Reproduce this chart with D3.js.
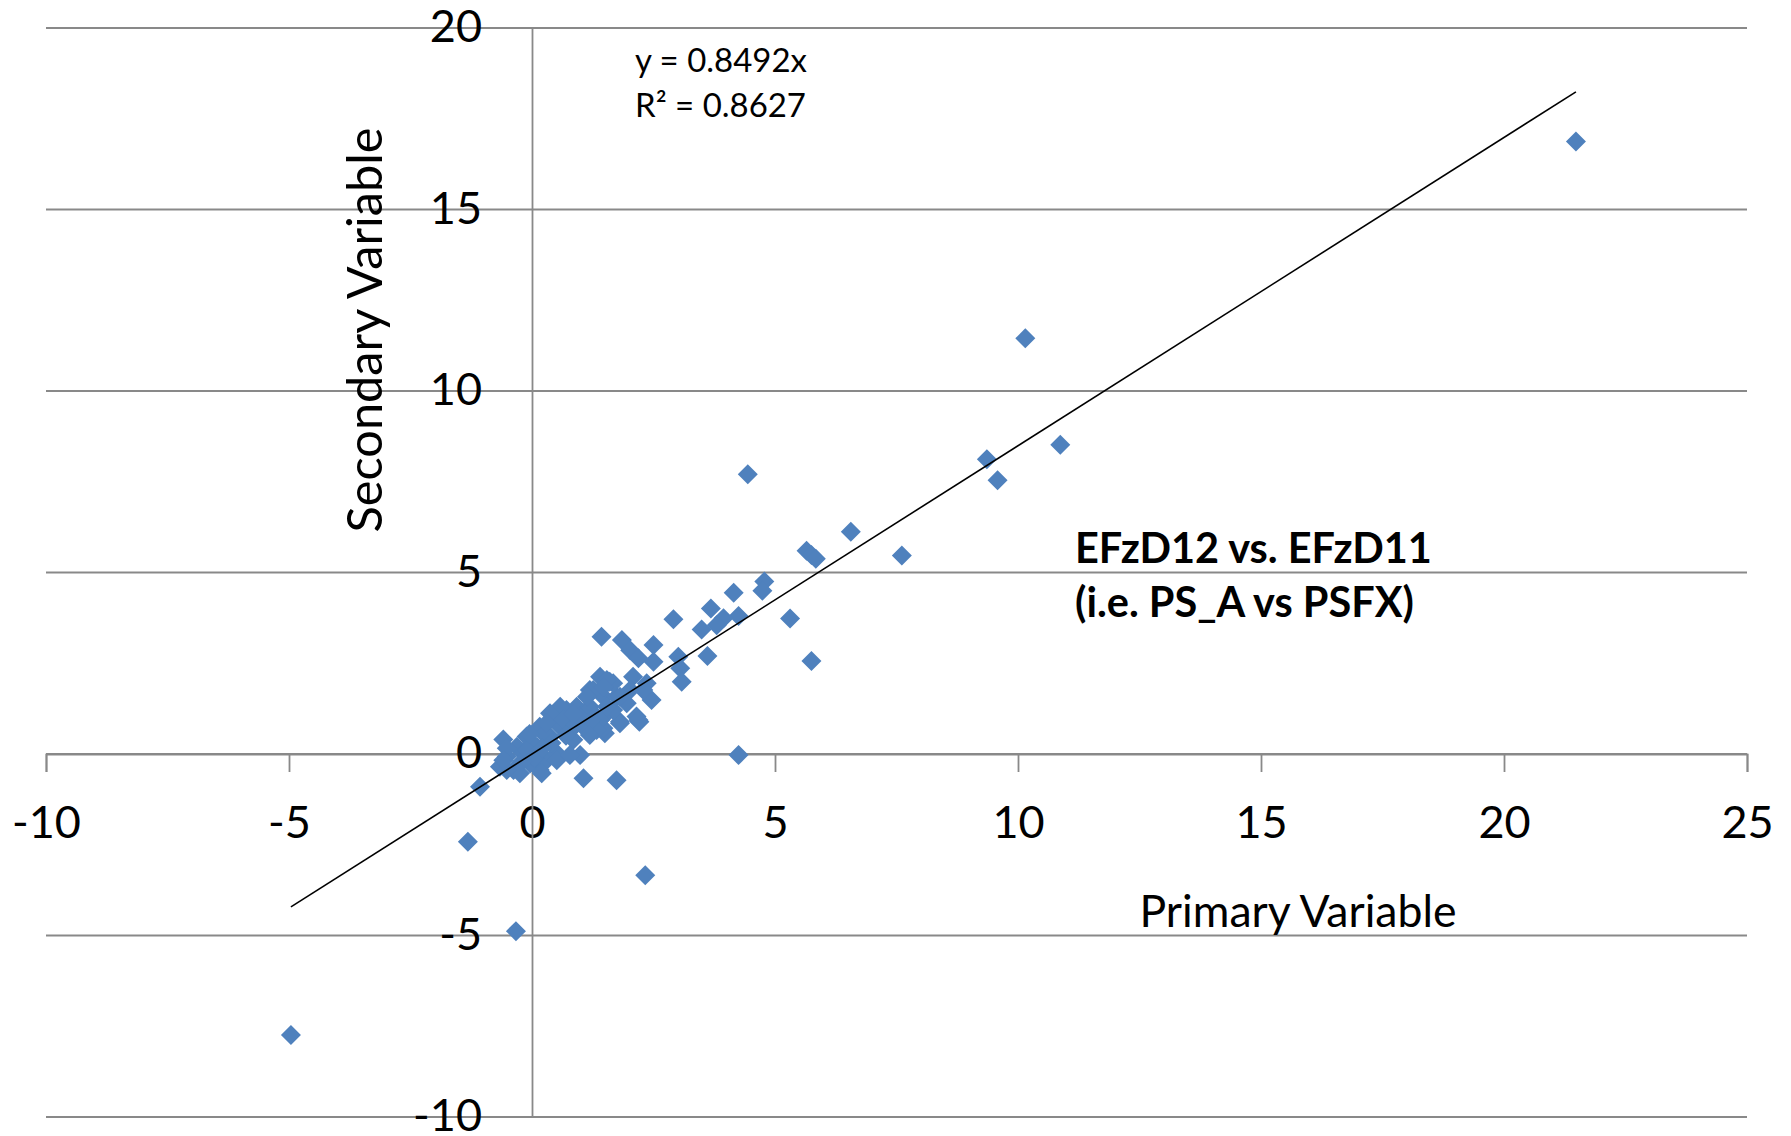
<!DOCTYPE html>
<html><head><meta charset="utf-8">
<script src="https://cdn.jsdelivr.net/npm/d3@7"></script>
<style>
body{margin:0;background:#fff}
svg{display:block}
text{font-family:Lato,"Open Sans",sans-serif;fill:#000}
</style>
</head><body>
<svg id="chart" width="1791" height="1136"></svg>
<script>
// ---- data ----
const primaryValues = [
 21.48,10.15,10.87,9.36,9.58,4.44,6.56,7.61,5.65,5.75,5.84,4.78,4.74,4.15,5.31,5.75,4.25,3.94,3.68,3.80,
 3.49,2.91,3.61,4.25,2.33,-4.96,-0.33,-1.32,-1.07,-0.59,0.99,1.06,1.74,1.43,1.85,2.02,2.19,2.50,2.50,3.01,
 3.05,3.08,2.08,2.36,2.46,2.15,2.21,1.81,1.50,1.60,1.40,1.19,1.47,1.74,2.02,0.92,1.19,1.54,1.81,2.19,
 1.47,1.06,0.99,2.29,1.67,1.54,1.26,0.71,0.44,0.16,-0.11,-0.31,-0.52,-0.66,-0.38,0.16,0.30,0.51,0.85,1.13,
 1.40,1.67,1.95,1.81,1.54,1.19,0.58,0.37,0.10,-0.18,-0.04,0.58,0.37,1.13,1.47,1.33,1.23,0.78,-0.52,-0.25,
 0.20,-0.52,-0.59,0.51,0.78,1.19,0.00,0.25,0.05,0.65,0.90,-0.20,0.40,0.70,1.00,-0.10,0.30,0.85,-0.05,0.20
];
const secondaryValues = [
 16.87,11.45,8.52,8.12,7.54,7.71,6.12,5.47,5.60,5.48,5.38,4.75,4.50,4.44,3.73,2.56,3.80,3.74,4.01,3.55,
 3.43,3.71,2.70,-0.03,-3.34,-7.74,-4.88,-2.42,-0.90,0.40,-0.03,-0.67,-0.72,3.23,3.14,2.86,2.64,3.00,2.54,2.68,
 2.36,1.99,2.13,1.95,1.49,1.03,0.89,0.89,0.57,1.99,2.13,1.76,1.58,1.58,1.76,1.30,1.30,1.12,0.85,0.94,
 0.71,0.75,1.03,1.76,1.95,2.04,1.76,1.21,1.03,0.75,0.48,0.20,-0.07,-0.35,-0.44,-0.44,-0.17,0.02,0.39,0.66,
 0.94,1.21,1.40,1.58,1.30,1.21,0.75,0.48,0.20,0.02,-0.26,1.30,1.12,1.58,1.85,0.66,0.94,0.66,0.16,-0.53,
 -0.53,-0.44,-0.17,-0.17,-0.03,0.52,0.30,0.55,-0.10,0.95,0.80,-0.20,0.30,0.50,1.00,0.10,0.85,1.10,0.55,0.15
];
const xTickValues = [-10,-5,0,5,10,15,20,25];
const yTickValues = [-10,-5,0,5,10,15,20];
const trendSlope = 0.8492;
const rSquared = 0.8627;
const xTitle = "Primary Variable";
const yTitle = "Secondary Variable";
const noteLines = ["EFzD12 vs. EFzD11", "(i.e. PS_A vs PSFX)"];

// ---- layout ----
const svg = d3.select("#chart");
const x = d3.scaleLinear().domain([-10,25]).range([46,1747]);
const y = d3.scaleLinear().domain([-10,20]).range([1117,28]);
const gridColor = "#898989";
const markColor = "#4F81BD";
const fmt = d => String(d);

// horizontal gridlines
svg.append("g").selectAll("line").data(yTickValues).join("line")
  .attr("x1", x(-10)).attr("x2", x(25))
  .attr("y1", d => y(d)).attr("y2", d => y(d))
  .attr("stroke", gridColor).attr("stroke-width", 1.8);

// x axis at y=0
const xAxis = svg.append("g").attr("transform", `translate(0,${y(0)})`)
  .call(d3.axisBottom(x).tickValues(xTickValues).tickSize(18).tickSizeOuter(18).tickPadding(34).tickFormat(fmt));
xAxis.selectAll("path,line").attr("stroke", gridColor).attr("stroke-width", 1.8);
xAxis.selectAll("text").style("font-size","45px").attr("fill","#000");

// y axis at x=0
const yAxis = svg.append("g").attr("transform", `translate(${x(0)},0)`)
  .call(d3.axisLeft(y).tickValues(yTickValues).tickSizeInner(0).tickSizeOuter(0).tickPadding(50).tickFormat(fmt));
yAxis.selectAll("path,line").attr("stroke", gridColor).attr("stroke-width", 1.8);
yAxis.selectAll("text").style("font-size","45px").attr("fill","#000").attr("dy","0.3em");

// points
const pts = primaryValues.map((v,i) => [v, secondaryValues[i]]);
svg.append("g").selectAll("path").data(pts).join("path")
  .attr("d", d3.symbol().type(d3.symbolSquare).size(200))
  .attr("transform", d => `translate(${x(d[0])},${y(d[1])}) rotate(45)`)
  .attr("fill", markColor);

// trendline
const ext = d3.extent(primaryValues);
svg.append("path")
  .datum(ext.map(v => [v, trendSlope * v]))
  .attr("d", d3.line().x(d => x(d[0])).y(d => y(d[1])))
  .attr("fill","none").attr("stroke","#000").attr("stroke-width",1.6);

// helper: fit font size to a target width
function fit(sel, target) {
  const base = 100;
  sel.style("font-size", base + "px");
  const w = sel.node().getComputedTextLength();
  const fs = base * target / w;
  sel.style("font-size", fs + "px");
  return fs;
}

// axis titles
const xt = svg.append("text").attr("x", 1298).attr("y", 927).attr("text-anchor","middle").text(xTitle);
fit(xt, 317);
const yt = svg.append("text").attr("transform","translate(382,330) rotate(-90)").attr("text-anchor","middle").text(yTitle);
fit(yt, 405);

// equation
const eq1 = svg.append("text").attr("x", 635).attr("y", 72).text(`y = ${trendSlope}x`);
const eqSize = fit(eq1, 172);
svg.append("text").attr("x", 635).attr("y", 117).style("font-size", eqSize + "px").text(`R² = ${rSquared}`);

// note
const n1 = svg.append("text").attr("x", 1075).attr("y", 563).style("font-weight","bold").text(noteLines[0]);
const noteSize = fit(n1, 357);
svg.append("text").attr("x", 1075).attr("y", 617).style("font-weight","bold").style("font-size", noteSize + "px").text(noteLines[1]);
</script>
</body></html>
